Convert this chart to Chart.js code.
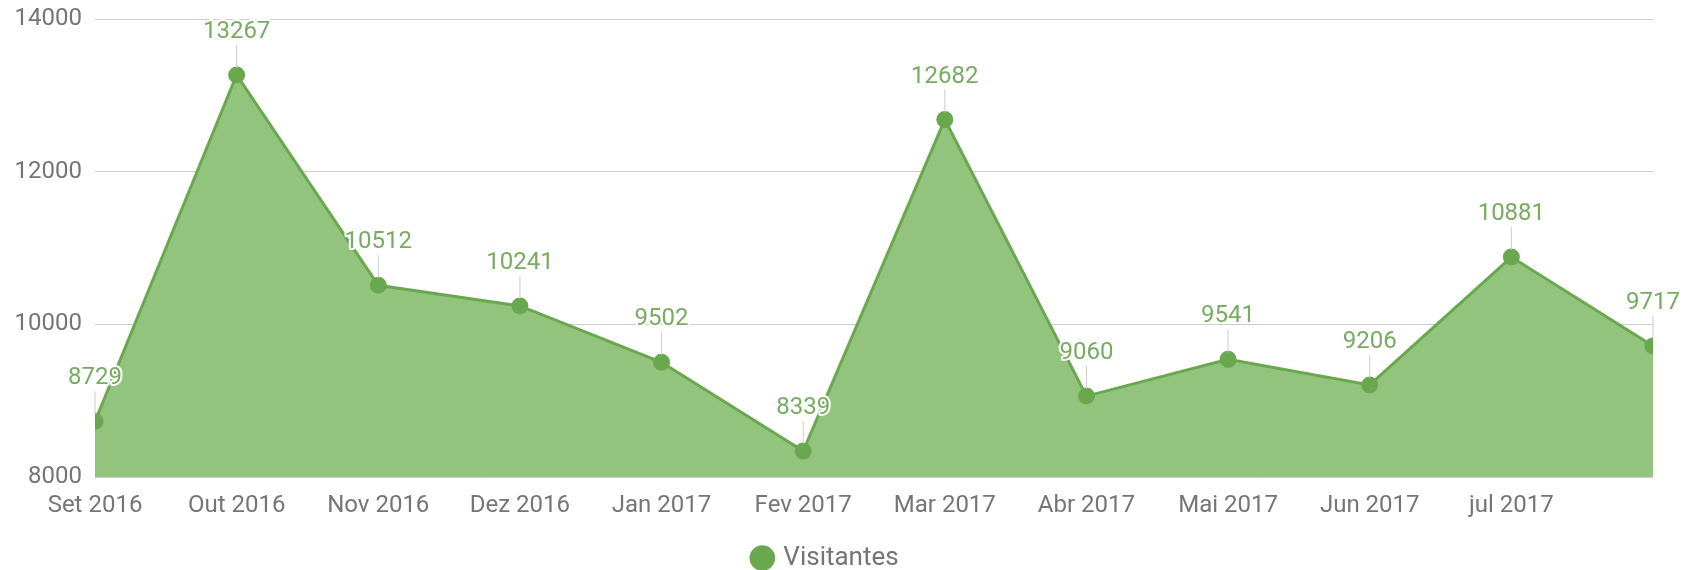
<!DOCTYPE html>
<html>
<head>
<meta charset="utf-8">
<script src="https://cdn.jsdelivr.net/npm/chart.js@4"></script>
<style>
  html, body { margin: 0; padding: 0; background: #fff; }
  #wrap { width: 1698px; height: 570px; }
</style>
</head>
<body>
<div id="wrap"><canvas id="visitChart"></canvas></div>
<script>
// Chart data
const months = ['Set 2016', 'Out 2016', 'Nov 2016', 'Dez 2016', 'Jan 2017', 'Fev 2017',
                'Mar 2017', 'Abr 2017', 'Mai 2017', 'Jun 2017', 'jul 2017', 'Ago 2017'];
const visitors = [8729, 13267, 10512, 10241, 9502, 8339, 12682, 9060, 9541, 9206, 10881, 9717];
const yTicks = [8000, 10000, 12000, 14000];

const FONT = 'Roboto, "Noto Sans", sans-serif';
const LINE_GREEN = '#6aa84f';
const FILL_GREEN = '#93c47d';
const LABEL_GREEN = '#78ac62';
const AXIS_GREY = '#757575';

// Value labels above each point, with a thin leader line
const valueLabels = {
    id: 'valueLabels',
    afterDatasetsDraw(chart) {
        const ctx = chart.ctx;
        const meta = chart.getDatasetMeta(0);
        ctx.save();
        ctx.font = '24px ' + FONT;
        ctx.textAlign = 'center';
        ctx.textBaseline = 'middle';
        meta.data.forEach((pt, i) => {
            const ly = pt.y - 43;
            // leader line
            ctx.strokeStyle = 'rgba(200,200,200,0.9)';
            ctx.lineWidth = 1;
            ctx.beginPath();
            ctx.moveTo(pt.x, ly + 13);
            ctx.lineTo(pt.x, pt.y - 7);
            ctx.stroke();
            // label with white halo
            const txt = String(visitors[i]);
            ctx.lineWidth = 4;
            ctx.lineJoin = 'round';
            ctx.strokeStyle = '#ffffff';
            ctx.strokeText(txt, pt.x, ly);
            ctx.fillStyle = LABEL_GREEN;
            ctx.fillText(txt, pt.x, ly);
        });
        ctx.restore();
    }
};

const ctx = document.getElementById('visitChart').getContext('2d');
new Chart(ctx, {
    type: 'line',
    data: {
        labels: months,
        datasets: [{
            label: 'Visitantes',
            data: visitors,
            borderColor: LINE_GREEN,
            backgroundColor: FILL_GREEN,
            pointBackgroundColor: LINE_GREEN,
            pointBorderColor: LINE_GREEN,
            pointRadius: 7,
            borderWidth: 3,
            tension: 0,
            fill: 'start',
            clip: 0
        }]
    },
    options: {
        responsive: true,
        maintainAspectRatio: false,
        animation: false,
        layout: {
            padding: { top: 19, right: 45, left: 0, bottom: -11 }
        },
        plugins: {
            legend: {
                display: true,
                position: 'bottom',
                labels: {
                    usePointStyle: true,
                    pointStyle: 'circle',
                    boxWidth: 16,
                    boxHeight: 16,
                    color: AXIS_GREY,
                    padding: 0,
                    font: { family: FONT, size: 26 }
                }
            },
            tooltip: { enabled: false }
        },
        scales: {
            x: {
                grid: { display: false },
                border: { display: false },
                offset: false,
                ticks: {
                    autoSkip: false,
                    maxRotation: 0,
                    color: AXIS_GREY,
                    padding: 7,
                    font: { family: FONT, size: 24 },
                    callback: function(value, index) {
                        // the last month label is cut off in the original
                        return index === months.length - 1 ? '' : months[index];
                    }
                },
                afterFit(scale) { scale.height = 68; }
            },
            y: {
                min: yTicks[0],
                max: yTicks[yTicks.length - 1],
                grid: { color: '#cccccc', lineWidth: 1, drawTicks: false },
                border: { display: false },
                afterBuildTicks(scale) {
                    scale.ticks = yTicks.map(v => ({ value: v }));
                },
                ticks: {
                    color: AXIS_GREY,
                    padding: 13,
                    font: { family: FONT, size: 24 },
                    callback: (value) => String(value)
                },
                afterFit(scale) {
                    scale.width = 95;
                    scale.paddingTop = 0;
                    scale.paddingBottom = 0;
                }
            }
        }
    },
    plugins: [valueLabels]
});
</script>
</body>
</html>
